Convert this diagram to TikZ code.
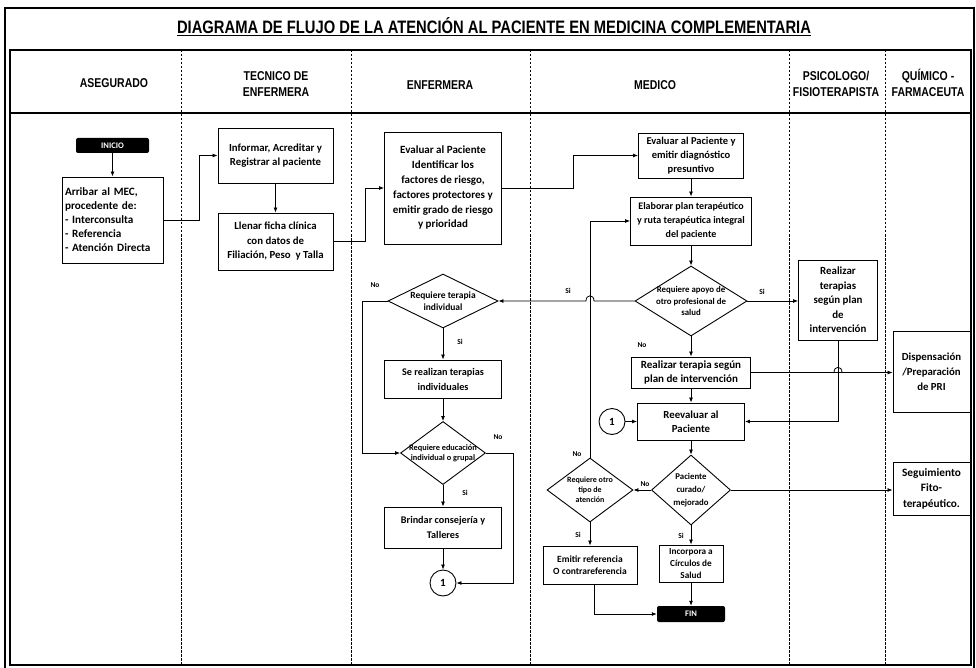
\documentclass[tikz,border=0pt]{standalone}
\usepackage{fontspec}
\setmainfont{Carlito}
\newfontfamily\hdrfont[FakeStretch=0.82]{Liberation Sans}
\usetikzlibrary{shapes.geometric,arrows.meta,calc}
\begin{document}
\begin{tikzpicture}[x=1pt,y=-1pt,
  box/.style={draw, line width=0.9pt, align=center, inner sep=1pt, font=\bfseries\fontsize{10.8}{14.5}\selectfont},
  dia/.style={draw, diamond, line width=0.9pt, inner sep=0pt},
  dtext/.style={align=center, inner sep=0pt, font=\bfseries\fontsize{8}{11}\selectfont},
  term/.style={fill=black, rounded corners=2pt, text=white, inner sep=0pt, font=\bfseries\fontsize{8.5}{9}\selectfont},
  conn/.style={draw, circle, line width=0.9pt, inner sep=0pt, minimum size=26pt, font=\bfseries\fontsize{11}{12}\selectfont},
  arr/.style={-{Latex[length=5pt,width=4pt]}, line width=0.8pt},
  yn/.style={inner sep=0pt, font=\bfseries\fontsize{7.5}{8}\selectfont},
  lane/.style={line width=0.8pt, dash pattern=on 2.5pt off 1.5pt},
  hdr/.style={align=center, inner sep=0pt, font=\hdrfont\bfseries\fontsize{12.8}{16}\selectfont},
  frame/.style={line width=1.3pt}
]
\useasboundingbox (0,0) rectangle (976,668);
% frames
\draw[frame] (5,668) -- (5,8) -- (974,8) -- (974,668);
\draw[frame] (10,50) rectangle (971,665);
\draw[frame] (10,113) -- (971,113);
\foreach \lx in {181,351,530,789,885}{\draw[lane] (\lx,50) -- (\lx,665);}
% title and headers
\node[inner sep=0pt, font=\hdrfont\bfseries\fontsize{18}{20}\selectfont] (title) at (494,27) {\underline{DIAGRAMA DE FLUJO DE LA ATENCIÓN AL PACIENTE EN MEDICINA COMPLEMENTARIA}};
\node[hdr] (h1) at (114,83) {ASEGURADO};
\node[hdr] (h2) at (276,84) {TECNICO DE\\ENFERMERA};
\node[hdr] (h3) at (440,85) {ENFERMERA};
\node[hdr] (h4) at (655,85) {MEDICO};
\node[hdr] (h5) at (836,84) {PSICOLOGO/\\FISIOTERAPISTA};
\node[hdr] (h6) at (928,83) {QUÍMICO -\\FARMACEUTA};
% asegurado
\node[term, minimum width=73pt, minimum height=15pt] (inicio) at (112.5,145.5) {INICIO};
\node[box, align=left, text width=95pt, inner sep=3pt, minimum height=86pt, font=\bfseries\fontsize{11.2}{14}\selectfont] (arribar) at (112.5,220) {Arribar al MEC,\\procedente de:\\- Interconsulta\\- Referencia\\- Atención Directa};
% tecnico
\node[box, minimum width=115pt, minimum height=55pt] (informar) at (275.5,155.5) {Informar, Acreditar y\\Registrar al paciente};
\node[box, minimum width=115pt, minimum height=57pt] (llenar) at (275.5,241.5) {Llenar ficha clínica\\con datos de\\Filiación, Peso\ \ y Talla};
% enfermera
\node[box, minimum width=117pt, minimum height=112pt, font=\bfseries\fontsize{11}{14.8}\selectfont] (evalE) at (443,188) {Evaluar al Paciente\\Identificar los\\factores de riesgo,\\factores protectores y\\emitir grado de riesgo\\y prioridad};
\node[dia, minimum width=110pt, minimum height=54pt, label={[dtext, font=\bfseries\fontsize{9.5}{12}\selectfont]center:{Requiere terapia\\individual}}] (indiv) at (443,301) {};
\node[box, minimum width=117pt, minimum height=38pt, font=\bfseries\fontsize{10.2}{15}\selectfont] (serealizan) at (443,379) {Se realizan terapias\\individuales};
\node[dia, minimum width=85pt, minimum height=63pt, label={[dtext, font=\bfseries\fontsize{8.3}{10}\selectfont]center:{Requiere educación\\individual o grupal}}] (educ) at (443,453) {};
\node[box, minimum width=117pt, minimum height=41pt, font=\bfseries\fontsize{10.2}{15}\selectfont] (brindar) at (443,527.5) {Brindar consejería y\\Talleres};
\node[conn] (c1a) at (443,583) {1};
% medico
\node[box, minimum width=105pt, minimum height=45pt, font=\bfseries\fontsize{10.5}{14}\selectfont] (evalM) at (691,155.5) {Evaluar al Paciente y\\emitir diagnóstico\\presuntivo};
\node[box, minimum width=121pt, minimum height=48pt, font=\bfseries\fontsize{10}{14}\selectfont] (elaborar) at (691,221) {Elaborar plan terapéutico\\y ruta terapéutica integral\\del paciente};
\node[dia, minimum width=112pt, minimum height=70pt, label={[dtext, font=\bfseries\fontsize{8.8}{11.5}\selectfont]center:{Requiere apoyo de\\otro profesional de\\salud}}] (apoyo) at (691,301) {};
\node[box, minimum width=119pt, minimum height=31pt, font=\bfseries\fontsize{11}{13.5}\selectfont] (realizarS) at (691,372.5) {Realizar terapia según\\plan de intervención};
\node[box, minimum width=107pt, minimum height=37pt, font=\bfseries\fontsize{10.8}{14}\selectfont] (reevaluar) at (691,421.5) {Reevaluar al\\Paciente};
\node[conn] (c1b) at (612,421.5) {1};
\node[dia, minimum width=79pt, minimum height=70pt, label={[dtext, font=\bfseries\fontsize{8.8}{13}\selectfont]center:{Paciente\\curado/\\mejorado}}] (curado) at (691,490) {};
\node[dia, minimum width=86pt, minimum height=64pt, label={[dtext, font=\bfseries\fontsize{8}{10}\selectfont]center:{Requiere otro\\tipo de\\atención}}] (otro) at (590,490) {};
\node[box, minimum width=94pt, minimum height=38pt, font=\bfseries\fontsize{9.5}{12.5}\selectfont] (emitir) at (590,565) {Emitir referencia\\O contrareferencia};
\node[box, minimum width=64pt, minimum height=37pt, font=\bfseries\fontsize{9.2}{12}\selectfont] (incorpora) at (691,563.5) {Incorpora a\\Círculos de\\Salud};
\node[term, minimum width=68pt, minimum height=16pt] (fin) at (691,614) {FIN};
% psicologo
\node[box, minimum width=79pt, minimum height=80pt, font=\bfseries\fontsize{10.9}{14.5}\selectfont] (realizarT) at (838,300) {Realizar\\terapias\\según plan\\de\\intervención};
% quimico
\node[box, minimum width=77pt, minimum height=81pt, font=\bfseries\fontsize{10.8}{15}\selectfont] (dispens) at (931.5,371.5) {Dispensación\\/Preparación\\de PRI};
\node[box, minimum width=77pt, minimum height=53pt, font=\bfseries\fontsize{11.3}{15.5}\selectfont] (seguim) at (931.5,488.5) {Seguimiento\\Fito-\\terapéutico.};
% connectors
\draw[arr] (inicio.south) -- (arribar.north);
\draw[arr] (arribar.east) -| ([xshift=-18pt]informar.west) -- (informar.west);
\draw[arr] (informar.south) -- (llenar.north);
\draw[arr] (llenar.east) -| ([xshift=-19pt]evalE.west) -- (evalE.west);
\draw[arr] (evalE.east) -| ([xshift=-65pt]evalM.west) -- (evalM.west);
\draw[arr] (evalM.south) -- (elaborar.north);
\draw[arr] (elaborar.south) -- (apoyo.north);
\draw[arr] (apoyo.east) -- (apoyo.east -| realizarT.west);
\node[yn] (ys1) at (762,292) {Si};
\draw[arr] (apoyo.west) -- (594,301) .. controls (594,294) and (586,294) .. (586,301) -- (indiv.east);
\node[yn] (ys2) at (568,291) {Si};
\draw[arr] (apoyo.south) -- (realizarS.north);
\node[yn] (yn1) at (642,345) {No};
\draw[arr] (realizarS.east) -- (842,372.5) .. controls (842,365.5) and (834,365.5) .. (834,372.5) -- (realizarS.east -| dispens.west);
\draw[arr] (realizarS.south) -- (reevaluar.north);
\draw[arr] (realizarT.south) |- (reevaluar.east);
\draw[arr] (c1b.east) -- (reevaluar.west);
\draw[arr] (reevaluar.south) -- (curado.north);
\draw[arr] (curado.west) -- (otro.east);
\node[yn] (yn2) at (645,484) {No};
\draw[arr] (curado.east) -- (curado.east -| seguim.west);
\draw[arr] (curado.south) -- (incorpora.north);
\node[yn] (ys3) at (681,536) {Si};
\draw[arr] (incorpora.south) -- (fin.north);
\draw[arr] (otro.north) |- (elaborar.west);
\node[yn] (yn3) at (577,454) {No};
\draw[arr] (otro.south) -- (emitir.north);
\node[yn] (ys4) at (578,535) {Si};
\draw[arr] ([xshift=4pt]emitir.south) |- (fin.west);
\draw[arr] (indiv.west) -- ++(-25,0) |- (educ.west);
\node[yn] (yn4) at (375,285) {No};
\draw[arr] (indiv.south) -- (serealizan.north);
\node[yn] (ys5) at (460,342) {Si};
\draw[arr] (serealizan.south) -- (educ.north);
\draw[arr] (educ.east) -- (513,453) |- (c1a.east);
\node[yn] (yn5) at (498,437) {No};
\draw[arr] (educ.south) -- (brindar.north);
\node[yn] (ys6) at (465,493) {Si};
\draw[arr] (brindar.south) -- (c1a.north);
\end{tikzpicture}
\end{document}
